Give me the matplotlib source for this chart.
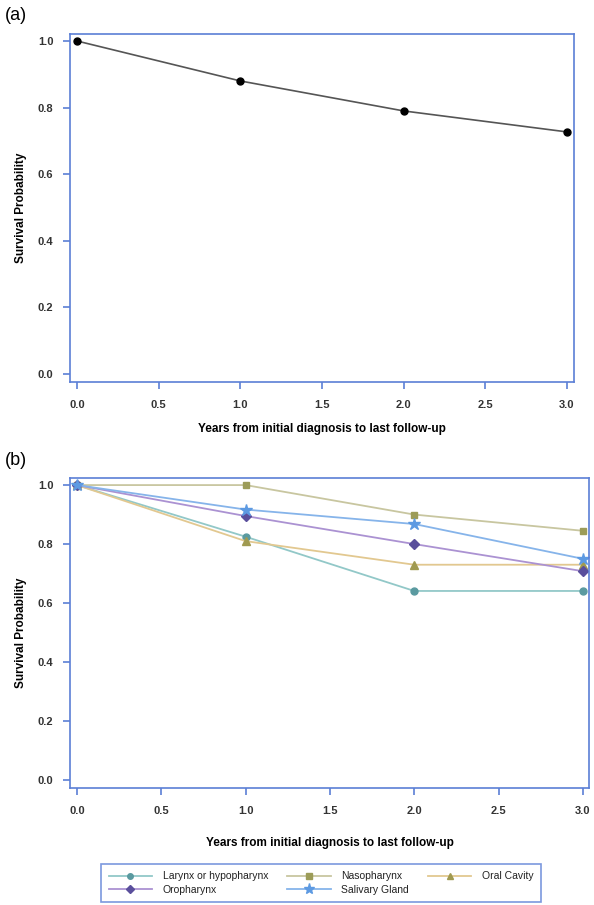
import matplotlib.pyplot as plt
from matplotlib.lines import Line2D

plt.rcParams['font.family'] = ['Liberation Sans', 'DejaVu Sans']

# Panel (a): overall survival
years_a = [0, 1, 2, 3]
surv_a = [1.0, 0.88, 0.79, 0.727]

# Panel (b): survival by tumour site
years_b = [0, 1, 2, 3]
sites = ['Larynx or hypopharynx', 'Nasopharynx', 'Oral Cavity', 'Oropharynx', 'Salivary Gland']
surv_larynx = [1.0, 0.825, 0.641, 0.641]
surv_naso = [1.0, 1.0, 0.90, 0.845]
surv_oral = [1.0, 0.81, 0.73, 0.73]
surv_oro = [1.0, 0.895, 0.80, 0.708]
surv_saliv = [1.0, 0.917, 0.868, 0.75]

x_ticks = [0.0, 0.5, 1.0, 1.5, 2.0, 2.5, 3.0]
y_ticks = [0.0, 0.2, 0.4, 0.6, 0.8, 1.0]

SPINE = '#5b7fd6'
TICKLAB = '#333333'

W, H = 594, 905
fig = plt.figure(figsize=(W / 100, H / 100), dpi=100)


def px_axes(left, top, right, bottom):
    return fig.add_axes([left / W, 1 - bottom / H, (right - left) / W, (bottom - top) / H])


def style_axes(ax, xlim, ylim, xpad):
    ax.set_xlim(*xlim)
    ax.set_ylim(*ylim)
    ax.set_xticks(x_ticks)
    ax.set_yticks(y_ticks)
    ax.set_xticklabels([f'{v:.1f}' for v in x_ticks])
    ax.set_yticklabels([f'{v:.1f}' for v in y_ticks])
    for s in ax.spines.values():
        s.set_color(SPINE)
        s.set_linewidth(1.2)
    ax.tick_params(axis='both', direction='out', length=5, width=1.2, color=SPINE,
                   labelsize=8, labelcolor=TICKLAB, pad=8)
    ax.tick_params(axis='y', pad=7)
    for lab in ax.get_xticklabels() + ax.get_yticklabels():
        lab.set_fontweight('bold')
    ax.set_xlabel('Years from initial diagnosis to last follow-up', fontsize=8.5,
                  fontweight='bold', labelpad=xpad)
    ax.set_ylabel('Survival Probability', fontsize=8.5, fontweight='bold', labelpad=8)


# (a)
ax1 = px_axes(70, 34, 574, 382)
ax1.plot(years_a, surv_a, color='#555555', lw=1.2, marker='o', ms=5,
         mfc='black', mec='black')
style_axes(ax1, (-0.043, 3.043), (-0.024, 1.021), 9)
fig.text(5 / W, 1 - 16 / H, '(a)', fontsize=13, va='center', ha='left')

# (b)
ax2 = px_axes(70, 478, 589, 788)
series = [
    (surv_larynx, 'o', '#5a9aa0', '#92c8c8', 5),
    (surv_naso, 's', '#9c9c58', '#c8c6a0', 5),
    (surv_oral, '^', '#a09a50', '#e2c890', 6),
    (surv_oro, 'D', '#5a4f9c', '#ab92d2', 5),
    (surv_saliv, '*', '#5d9ae2', '#86b4ea', 9),
]
handles = []
for (vals, mk, mc, lc, ms), name in zip(series, sites):
    ax2.plot(years_b, vals, color=lc, lw=1.3, marker=mk, ms=ms, mfc=mc, mec=mc)
    handles.append(Line2D([], [], color=lc, lw=1.3, marker=mk, ms=ms - 1, mfc=mc, mec=mc,
                          label=name))
style_axes(ax2, (-0.0415, 3.036), (-0.027, 1.024), 15)
fig.text(5 / W, 1 - 460 / H, '(b)', fontsize=13, va='center', ha='left')

# legend: rows -> Larynx, Naso, Oral / Oro, Salivary
order = [0, 3, 1, 4, 2]
leg = fig.legend([handles[i] for i in order], [sites[i] for i in order],
                 ncol=3, loc='center', bbox_to_anchor=(321 / W, 1 - 883 / H),
                 fontsize=7.5, handlelength=4.2, columnspacing=1.8, handletextpad=1.0,
                 frameon=True, fancybox=False, borderpad=0.7, labelspacing=0.3)
leg.get_frame().set_edgecolor(SPINE)
leg.get_frame().set_linewidth(1.2)
for t in leg.get_texts():
    t.set_color('#222222')

fig.savefig('out.png', dpi=100)
